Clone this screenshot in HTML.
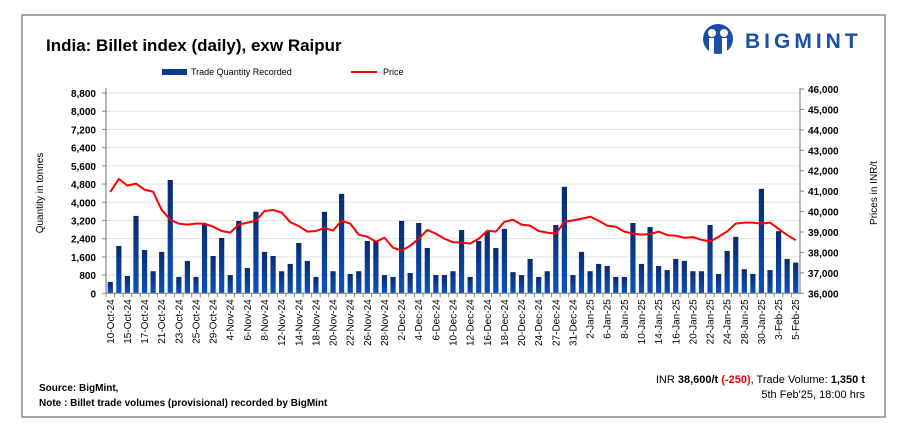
<!DOCTYPE html>
<html><head><meta charset="utf-8"><style>
body{margin:0;background:#fff;width:910px;height:440px;overflow:hidden;font-family:"Liberation Sans",sans-serif}
</style></head><body>
<svg id="chart" width="910" height="440" viewBox="0 0 910 440" xmlns="http://www.w3.org/2000/svg" font-family="Liberation Sans, sans-serif">
<defs><linearGradient id="bg" x1="0" y1="0" x2="0" y2="1"><stop offset="0" stop-color="#0a2a6e"/><stop offset="1" stop-color="#0a52bd"/></linearGradient></defs>
<rect x="22" y="15" width="863" height="402" fill="#fff" stroke="#8a8a8a" stroke-width="1.5"/>
<text x="46" y="51" font-size="17" font-weight="bold" fill="#000">India: Billet index (daily), exw Raipur</text>
<g>
<circle cx="718" cy="39" r="15" fill="#1a4fa8"/>
<circle cx="712" cy="33" r="4" fill="#fff"/><circle cx="724" cy="33" r="4" fill="#fff"/>
<rect x="709" y="38" width="5" height="15" fill="#fff"/><rect x="722" y="38" width="5" height="15" fill="#fff"/>
<text x="745" y="48" font-size="21" font-weight="bold" fill="#1a4fa8" letter-spacing="4">BIGMINT</text>
</g>
<g>
<rect x="162" y="69" width="25" height="6" fill="#0a3a8e"/>
<text x="191" y="75" font-size="9">Trade Quantity Recorded</text>
<line x1="351" y1="72" x2="377" y2="72" stroke="#f00" stroke-width="2"/>
<text x="383" y="75" font-size="9">Price</text>
</g>
<g id="grid"></g><g id="bars"></g><g id="line"></g><g id="axes"></g>
<text transform="translate(43,193) rotate(-90)" text-anchor="middle" font-size="10">Quantity in tonnes</text>
<text transform="translate(877,193) rotate(-90)" text-anchor="middle" font-size="10">Prices in INR/t</text>
<text x="39" y="391" font-size="10" font-weight="bold">Source: BigMint,</text>
<text x="39" y="406" font-size="10" font-weight="bold">Note : Billet trade volumes (provisional) recorded by BigMint</text>
<text x="865" y="383" font-size="11" text-anchor="end">INR <tspan font-weight="bold">38,600/t</tspan> <tspan font-weight="bold" fill="#e00">(-250)</tspan>, Trade Volume: <tspan font-weight="bold">1,350 t</tspan></text>
<text x="865" y="398" font-size="11" text-anchor="end">5th Feb'25, 18:00 hrs</text>
</svg>
<script>
const categories=["10-Oct-24","14-Oct-24","15-Oct-24","16-Oct-24","17-Oct-24","18-Oct-24","21-Oct-24","22-Oct-24","23-Oct-24","24-Oct-24","25-Oct-24","28-Oct-24","29-Oct-24","30-Oct-24","4-Nov-24","5-Nov-24","6-Nov-24","7-Nov-24","8-Nov-24","11-Nov-24","12-Nov-24","13-Nov-24","14-Nov-24","16-Nov-24","18-Nov-24","19-Nov-24","20-Nov-24","21-Nov-24","22-Nov-24","25-Nov-24","26-Nov-24","27-Nov-24","28-Nov-24","29-Nov-24","2-Dec-24","3-Dec-24","4-Dec-24","5-Dec-24","6-Dec-24","9-Dec-24","10-Dec-24","11-Dec-24","12-Dec-24","13-Dec-24","16-Dec-24","17-Dec-24","18-Dec-24","19-Dec-24","20-Dec-24","23-Dec-24","24-Dec-24","26-Dec-24","27-Dec-24","30-Dec-24","31-Dec-24","1-Jan-25","2-Jan-25","3-Jan-25","6-Jan-25","7-Jan-25","8-Jan-25","9-Jan-25","10-Jan-25","13-Jan-25","14-Jan-25","15-Jan-25","16-Jan-25","17-Jan-25","20-Jan-25","21-Jan-25","22-Jan-25","23-Jan-25","24-Jan-25","27-Jan-25","28-Jan-25","29-Jan-25","30-Jan-25","31-Jan-25","3-Feb-25","4-Feb-25","5-Feb-25"];
const volumes=[500,2080,760,3400,1900,970,1820,4980,720,1420,720,3040,1640,2430,800,3180,1110,3580,1820,1640,970,1290,2210,1420,720,3580,970,4370,850,970,2300,2300,800,720,3180,890,3090,1990,800,800,970,2780,720,2300,2690,1990,2830,930,800,1510,720,970,3000,4680,800,1820,970,1290,1200,720,720,3090,1290,2910,1200,1020,1510,1420,970,970,3000,850,1860,2480,1060,850,4590,1020,2730,1510,1350];
const prices=[40960,41600,41270,41370,41070,40970,40080,39600,39410,39360,39410,39410,39260,39050,38970,39360,39460,39550,40030,40080,39950,39480,39290,39020,39050,39200,39070,39550,39410,38870,38770,38530,38720,38230,38090,38330,38670,39100,38920,38670,38500,38480,38430,38670,39060,39020,39500,39600,39360,39310,39050,38970,38920,39500,39570,39650,39750,39550,39310,39260,39020,38920,38870,38900,39020,38850,38820,38720,38750,38620,38530,38770,39030,39410,39460,39460,39410,39460,39150,38850,38600];
const leftTicks=[0,800,1600,2400,3200,4000,4800,5600,6400,7200,8000,8800];
const rightTicks=[36000,37000,38000,39000,40000,41000,42000,43000,44000,45000,46000];
const NS="http://www.w3.org/2000/svg";
const X0=106,X1=800,Y0=293.3;
const yL=v=>Y0-v*(200.3/8800);
const yR=v=>Y0-(v-36000)*(20.43/1000);
const step=(X1-X0)/categories.length;
const xC=i=>X0+(i+0.5)*step;
function mk(tag,attrs,parent){const e=document.createElementNS(NS,tag);for(const k in attrs)e.setAttribute(k,attrs[k]);document.getElementById(parent).appendChild(e);return e;}
const fmt=v=>v.toLocaleString('en-US');
leftTicks.forEach(t=>{
  if(t>0){const g=mk('line',{x1:X0,x2:X1,y1:yL(t),y2:yL(t),stroke:'#e3e3e3','stroke-width':1},'grid');
  
  }
  const tx=mk('text',{x:96,y:yL(t)+4,'text-anchor':'end','font-size':10,'font-weight':'bold'},'axes');
  tx.textContent=fmt(t);
  
  
  mk('line',{x1:X0-4,x2:X0,y1:yL(t),y2:yL(t),stroke:'#888'},'axes');
});
rightTicks.forEach(t=>{
  const tx=mk('text',{x:808,y:yR(t)+4,'font-size':10,'font-weight':'bold'},'axes');
  tx.textContent=fmt(t);
  
  
  mk('line',{x1:X1,x2:X1+4,y1:yR(t),y2:yR(t),stroke:'#888'},'axes');
});
volumes.forEach((v,i)=>{
  const b=mk('rect',{x:xC(i)-2.6,y:yL(v),width:5.2,height:Y0-yL(v),fill:'url(#bg)'},'bars');
  
  
});
const pl=mk('polyline',{points:prices.map((p,i)=>xC(i)+','+yR(p)).join(' '),fill:'none',stroke:'#ff0000','stroke-width':2,'stroke-linejoin':'round'},'line');


const ax=mk('path',{d:`M${X0},88 V${Y0} H${X1} V88`,fill:'none',stroke:'#888','stroke-width':1.2},'axes');


categories.forEach((c,i)=>{
  mk('line',{x1:X0+i*step,x2:X0+i*step,y1:Y0,y2:Y0+4,stroke:'#888'},'axes');
  if(i%2===0){
    const t=mk('text',{transform:`translate(${xC(i)+3.5},${Y0+6}) rotate(-90)`,'text-anchor':'end','font-size':10},'axes');
    t.textContent=c;
    
    
  }
});
</script>
</body></html>
